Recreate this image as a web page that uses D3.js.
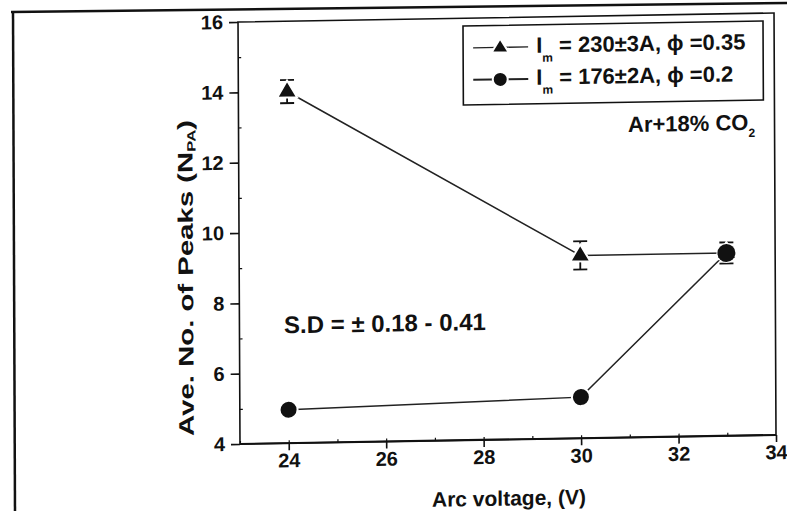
<!DOCTYPE html>
<html lang="en">
<head>
<meta charset="UTF-8">
<title>Arc voltage vs peaks</title>
<script src="https://d3js.org/d3.v7.min.js"></script>
<style>
    body {margin: 0; background: #fff;}
    svg {display: block;}
    text {font-family: "Liberation Sans", Arial, sans-serif; font-weight: bold; fill: #111;}
</style>
</head>
<body>
<svg id="fig" width="787" height="511"></svg>
<script>
// data
let arc_voltage = [24, 30, 33];
let peaks_230A = [14.0, 9.2, 9.2];
let err_230A = [0.33, 0.4, 0.3];
let peaks_176A = [4.95, 5.17, 9.2];
let err_176A = [0.05, 0.05, 0.1];
let x_ticks = [24, 26, 28, 30, 32, 34];
let y_ticks = [4, 6, 8, 10, 12, 14, 16];
let legend_labels = [" = 230\u00b13A, \u03d5 =0.35", " = 176\u00b12A, \u03d5 =0.2"];

let svg = d3.select("#fig");

// scan frame lines
svg.append("line").attr("x1", 11).attr("y1", 12).attr("x2", 787).attr("y2", 3)
    .attr("stroke", "#111").attr("stroke-width", 2.5);
svg.append("line").attr("x1", 13).attr("y1", 11).attr("x2", 15).attr("y2", 511)
    .attr("stroke", "#111").attr("stroke-width", 2.5);

// the scanned figure is slightly skewed
let ox = 240, oy = 444, kb = -0.0168, kc = 0.0047;
let W = 536, H = 422;
let g = svg.append("g")
    .attr("transform", `translate(${ox},${oy}) matrix(1,${kb},${kc},1,0,0)`);
// screen -> plot frame
function toPlot(X, Y) {
    let dx = X - ox, dy = Y - oy;
    let u = (dx - kc * dy) / (1 - kb * kc);
    let v = dy - kb * u;
    return [u, v];
}

let x = d3.scaleLinear().domain([23, 34]).range([0, W]);
let y = d3.scaleLinear().domain([4, 16]).range([0, -H]);

// frame
g.append("rect").attr("x", 0).attr("y", -H).attr("width", W).attr("height", H)
    .attr("fill", "none").attr("stroke", "#111").attr("stroke-width", 1.6);
g.append("line").attr("x1", 0).attr("x2", W).attr("y1", 0).attr("y2", 0)
    .attr("stroke", "#111").attr("stroke-width", 2.2);

// x axis
let xAxis = g.append("g").call(d3.axisBottom(x).tickValues(x_ticks).tickSize(7).tickPadding(3));
xAxis.select(".domain").remove();
xAxis.selectAll("line").attr("stroke", "#111").attr("stroke-width", 1.6);
xAxis.selectAll("text").style("font-size", "20px");
g.append("g").call(d3.axisBottom(x).tickValues(d3.range(23, 34, 1)).tickSize(-3).tickFormat(""))
    .call(a => a.select(".domain").remove())
    .selectAll("line").attr("stroke", "#111").attr("stroke-width", 1.2);

// y axis
let yAxis = g.append("g").call(d3.axisLeft(y).tickValues(y_ticks).tickSize(9).tickPadding(6));
yAxis.select(".domain").remove();
yAxis.selectAll("line").attr("stroke", "#111").attr("stroke-width", 1.6);
yAxis.selectAll("text").style("font-size", "20px");
g.append("g").call(d3.axisLeft(y).tickValues(d3.range(5, 16, 2)).tickSize(-3).tickFormat(""))
    .call(a => a.select(".domain").remove())
    .selectAll("line").attr("stroke", "#111").attr("stroke-width", 1.2);

// axis titles
let xt = toPlot(509, 500);
g.append("text").attr("x", xt[0]).attr("y", xt[1]).attr("text-anchor", "middle")
    .attr("dominant-baseline", "middle").style("font-size", "21px").text("Arc voltage, (V)");
let yt = toPlot(187, 278);
let ylab = g.append("text").attr("transform", `translate(${yt[0]},${yt[1]}) rotate(-90)`)
    .attr("text-anchor", "middle").attr("dominant-baseline", "middle")
    .attr("textLength", 316).attr("lengthAdjust", "spacingAndGlyphs")
    .style("font-size", "21px");
ylab.append("tspan").text("Ave. No. of Peaks (N");
ylab.append("tspan").attr("dy", 6).style("font-size", "12px").text("PA");
ylab.append("tspan").attr("dy", -6).text(")");

// series
let s230 = arc_voltage.map((v, i) => ({x: v, y: peaks_230A[i], e: err_230A[i]}));
let s176 = arc_voltage.map((v, i) => ({x: v, y: peaks_176A[i], e: err_176A[i]}));
let line = d3.line().x(d => x(d.x)).y(d => y(d.y));
let tri = "M0,-11L10,6L-10,6Z";

[s176, s230].forEach(function (s) {
    g.append("path").datum(s).attr("d", line).attr("fill", "none")
        .attr("stroke", "#222").attr("stroke-width", 1.5);
});

function errorBars(s) {
    let eb = g.append("g").selectAll("g").data(s).join("g").attr("stroke", "#111").attr("stroke-width", 1.8);
    eb.append("line").attr("x1", d => x(d.x)).attr("x2", d => x(d.x))
        .attr("y1", d => y(d.y - d.e)).attr("y2", d => y(d.y + d.e));
    eb.append("line").attr("x1", d => x(d.x) - 7).attr("x2", d => x(d.x) + 7)
        .attr("y1", d => y(d.y + d.e)).attr("y2", d => y(d.y + d.e));
    eb.append("line").attr("x1", d => x(d.x) - 7).attr("x2", d => x(d.x) + 7)
        .attr("y1", d => y(d.y - d.e)).attr("y2", d => y(d.y - d.e));
}
errorBars(s230);
errorBars(s176);

g.append("g").selectAll("circle").data(s176).join("circle")
    .attr("cx", d => x(d.x)).attr("cy", d => y(d.y)).attr("r", 9)
    .attr("fill", "#111").attr("stroke", "#fff").attr("stroke-width", 2);
g.append("g").selectAll("path").data(s230).join("path")
    .attr("transform", d => `translate(${x(d.x)},${y(d.y)})`).attr("d", tri)
    .attr("fill", "#111").attr("stroke", "#fff").attr("stroke-width", 2);
// last points overlap: redraw without halo
g.append("circle").attr("cx", x(s176[2].x)).attr("cy", y(s176[2].y)).attr("r", 9).attr("fill", "#111");

// legend
let lg = toPlot(463, 26);
let legend = g.append("g").attr("transform", `translate(${lg[0]},${lg[1]})`);
legend.append("rect").attr("width", 300).attr("height", 79)
    .attr("fill", "#fff").attr("stroke", "#111").attr("stroke-width", 1.6);
legend_labels.forEach(function (lab, i) {
    let cy = 22 + i * 32;
    legend.append("line").attr("x1", 10).attr("x2", 65).attr("y1", cy).attr("y2", cy)
        .attr("stroke", "#222").attr("stroke-width", i === 0 ? 1.3 : 2);
    if (i === 0) {
        legend.append("path").attr("transform", `translate(37,${cy})`).attr("d", "M0,-9L8.5,5L-8.5,5Z")
            .attr("fill", "#111").attr("stroke", "#fff").attr("stroke-width", 2);
    } else {
        legend.append("circle").attr("cx", 37).attr("cy", cy).attr("r", 7.5)
            .attr("fill", "#111").attr("stroke", "#fff").attr("stroke-width", 2);
    }
    let t = legend.append("text").attr("x", 73).attr("y", cy).attr("dominant-baseline", "middle")
        .style("font-size", "22px");
    t.append("tspan").text("I");
    t.append("tspan").attr("dy", 12).style("font-size", "12px").text("m");
    t.append("tspan").attr("dy", -12).text(lab);
});

// notes
let gas = toPlot(628, 126);
let gt = g.append("text").attr("x", gas[0]).attr("y", gas[1]).attr("dominant-baseline", "middle")
    .style("font-size", "22px");
gt.append("tspan").text("Ar+18% CO");
gt.append("tspan").attr("dy", 10).style("font-size", "12px").text("2");

let sd = toPlot(284, 327);
g.append("text").attr("x", sd[0]).attr("y", sd[1]).attr("dominant-baseline", "middle")
    .style("font-size", "24px").text("S.D = \u00b1 0.18 - 0.41");
</script>
</body>
</html>
